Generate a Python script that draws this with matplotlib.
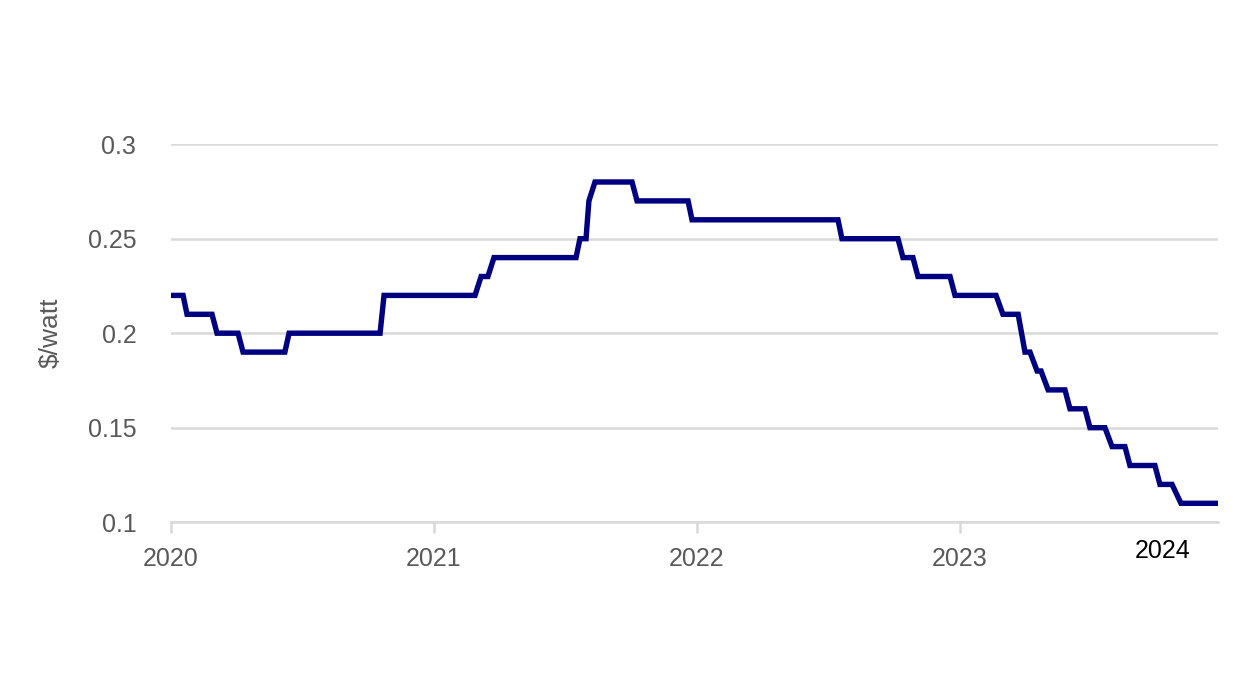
import matplotlib
matplotlib.use("Agg")
import matplotlib.pyplot as plt

plt.rcParams["font.family"] = "Liberation Sans"

# fractional years since 2020 and price ($/watt)
t = [0.0, 0.046, 0.061, 0.156, 0.175, 0.255, 0.274, 0.433, 0.449, 0.795,
     0.810, 1.156, 1.179, 1.205, 1.228, 1.540, 1.555, 1.578, 1.589, 1.612,
     1.753, 1.772, 1.966, 1.981, 2.536, 2.551, 2.764, 2.783, 2.821, 2.840,
     2.962, 2.981, 3.137, 3.163, 3.221, 3.247, 3.266, 3.293, 3.308, 3.335,
     3.399, 3.418, 3.475, 3.494, 3.551, 3.578, 3.627, 3.646, 3.741, 3.760,
     3.806, 3.840, 3.981]
price = [0.22, 0.22, 0.21, 0.21, 0.20, 0.20, 0.19, 0.19, 0.20, 0.20,
         0.22, 0.22, 0.23, 0.23, 0.24, 0.24, 0.25, 0.25, 0.27, 0.28,
         0.28, 0.27, 0.27, 0.26, 0.26, 0.25, 0.25, 0.24, 0.24, 0.23,
         0.23, 0.22, 0.22, 0.21, 0.21, 0.19, 0.19, 0.18, 0.18, 0.17,
         0.17, 0.16, 0.16, 0.15, 0.15, 0.14, 0.14, 0.13, 0.13, 0.12,
         0.12, 0.11, 0.11]
years = [2020, 2021, 2022, 2023]
yticks = [0.1, 0.15, 0.2, 0.25, 0.3]

x = [2020 + v for v in t]
gray = "#595959"

fig = plt.figure(figsize=(12.48, 7.0), dpi=100)
ax = fig.add_axes([0.137, 0.254, 0.839, 0.54])
ax.plot(x, price, color="#000080", lw=3.9, solid_joinstyle="miter", zorder=3)

ax.set_xlim(2020, x[-1])
ax.set_ylim(0.1, 0.3)
ax.set_yticks(yticks)
ax.set_yticklabels(["0.1", "0.15", "0.2", "0.25", "0.3"])
ax.set_xticks(years)
ax.set_xticklabels([str(y) for y in years])
ax.grid(axis="y", color="#d9d9d9", lw=1.8)
for s in ["top", "right", "left"]:
    ax.spines[s].set_visible(False)
ax.spines["bottom"].set_color("#d9d9d9")
ax.spines["bottom"].set_linewidth(1.8)
ax.tick_params(axis="y", length=0, labelsize=18, labelcolor=gray, pad=25)
ax.tick_params(axis="x", length=8, width=1.8, color="#d9d9d9", labelsize=18,
               labelcolor=gray, pad=10)
ax.text(2023.77, -0.075, "2024", transform=ax.get_xaxis_transform(),
        fontsize=18, color="black", ha="center", va="center")
ax.set_ylabel("$/watt", fontsize=19, color=gray, labelpad=18)

fig.savefig("out.png", dpi=100)
